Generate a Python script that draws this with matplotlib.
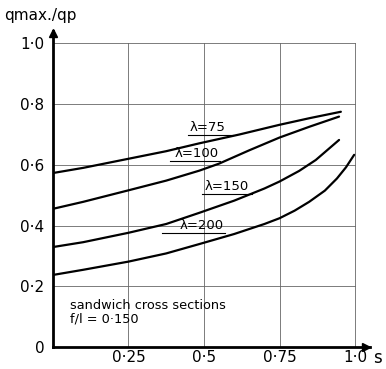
import matplotlib
matplotlib.use("Agg")
import matplotlib.pyplot as plt

# curves (s, qmax/qp)
s_75 = [0.0, 0.1, 0.25, 0.375, 0.485, 0.617, 0.75, 0.85, 0.953]
q_75 = [0.573, 0.59, 0.62, 0.645, 0.671, 0.70, 0.732, 0.754, 0.775]
s_100 = [0.0, 0.1, 0.25, 0.375, 0.485, 0.55, 0.65, 0.75, 0.85, 0.947]
q_100 = [0.455, 0.478, 0.516, 0.548, 0.581, 0.604, 0.648, 0.69, 0.726, 0.759]
s_150 = [0.0, 0.1, 0.25, 0.375, 0.485, 0.6, 0.7, 0.75, 0.815, 0.87, 0.947]
q_150 = [0.329, 0.345, 0.376, 0.405, 0.442, 0.482, 0.522, 0.545, 0.58, 0.616, 0.682]
s_200 = [0.0, 0.1, 0.25, 0.375, 0.485, 0.6, 0.7, 0.75, 0.8, 0.848, 0.9, 0.94, 0.97, 0.997]
q_200 = [0.237, 0.254, 0.281, 0.308, 0.339, 0.372, 0.405, 0.424, 0.449, 0.478, 0.515, 0.555, 0.592, 0.633]

x_ticks = [0.25, 0.5, 0.75, 1.0]
x_labels = ["0·25", "0·5", "0·75", "1·0"]
y_ticks = [0, 0.2, 0.4, 0.6, 0.8, 1.0]
y_labels = ["0", "0·2", "0·4", "0·6", "0·8", "1·0"]

fig = plt.figure(figsize=(3.86, 3.69), dpi=100)
ax = fig.add_axes([0.137, 0.06, 0.822, 0.855])
ax.set_xlim(0, 1.05)
ax.set_ylim(0, 1.04)

# grid
for x in x_ticks:
    ax.plot([x, x], [0, 1.0], color="#666666", lw=0.6, zorder=1)
for y in y_ticks[1:]:
    ax.plot([0, 1.0], [y, y], color="#666666", lw=0.6, zorder=1)

for s, q in [(s_75, q_75), (s_100, q_100), (s_150, q_150), (s_200, q_200)]:
    ax.plot(s, q, color="black", lw=1.6, solid_capstyle="round",
            solid_joinstyle="round", zorder=3)

# curve labels with underlines: text, text x, underline y, underline start, end
labels = [("λ=75", 0.454, 0.698, 0.447, 0.596),
          ("λ=100", 0.404, 0.613, 0.387, 0.553),
          ("λ=150", 0.503, 0.504, 0.493, 0.659),
          ("λ=200", 0.42, 0.376, 0.361, 0.57)]
for txt, tx, uy, u0, u1 in labels:
    ax.text(tx, uy + 0.012, txt, fontsize=9.5, ha="left", va="baseline", zorder=4)
    ax.plot([u0, u1], [uy, uy], color="black", lw=0.8, zorder=4)

ax.text(0.055, 0.135, "sandwich cross sections", fontsize=9.3, va="center")
ax.text(0.055, 0.092, "f/l = 0·150", fontsize=9.3, va="center")

# axes
for side in ["top", "right"]:
    ax.spines[side].set_visible(False)
for side in ["left", "bottom"]:
    ax.spines[side].set_linewidth(2.0)
ax.plot(0, 1.035, "^k", markersize=6, clip_on=False, zorder=5)
ax.plot(1.035, 0, ">k", markersize=6, clip_on=False, zorder=5)

ax.set_xticks(x_ticks)
ax.set_xticklabels(x_labels, fontsize=11)
ax.set_yticks(y_ticks)
ax.set_yticklabels(y_labels, fontsize=11)
ax.tick_params(axis="x", length=0, pad=2)
ax.tick_params(axis="y", length=0, pad=6)
ax.text(1.06, -0.008, "s", fontsize=12, ha="left", va="top")
fig.text(0.01, 0.958, "qmax./qp", fontsize=11, ha="left", va="center")

fig.savefig("out.png", dpi=100)
